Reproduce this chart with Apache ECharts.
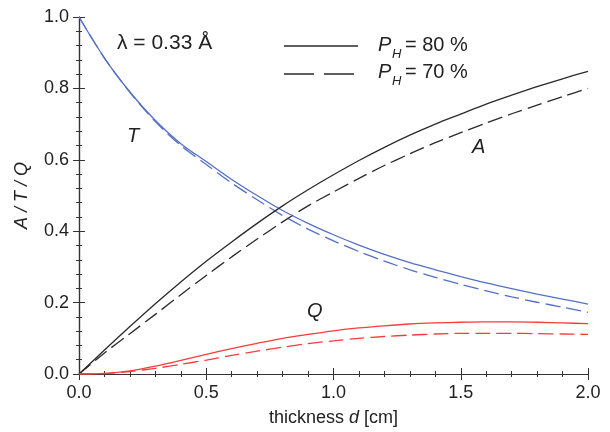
<!DOCTYPE html>
<html>
<head>
<meta charset="UTF-8">
<title>A / T / Q vs thickness</title>
<script src="https://cdn.jsdelivr.net/npm/echarts@6/dist/echarts.min.js"></script>
<style>
  html, body { margin: 0; padding: 0; background: #fff; }
  #chart { width: 610px; height: 432px; }
</style>
</head>
<body>
<div id="chart"></div>
<script>
// thickness d [cm]
const thickness = [0.0, 0.1, 0.2, 0.3, 0.4, 0.5, 0.6, 0.7, 0.8, 0.9, 1.0,
                   1.1, 1.2, 1.3, 1.4, 1.5, 1.6, 1.7, 1.8, 1.9, 2.0];

// P_H = 80 % (solid)
const T80 = [1.000, 0.885, 0.790, 0.710, 0.645, 0.595, 0.545, 0.500, 0.458, 0.422, 0.390,
             0.361, 0.335, 0.312, 0.292, 0.273, 0.255, 0.239, 0.224, 0.210, 0.196];
const A80 = [0.000, 0.067, 0.133, 0.197, 0.258, 0.316, 0.370, 0.422, 0.471, 0.516, 0.558,
             0.598, 0.635, 0.669, 0.700, 0.728, 0.756, 0.781, 0.805, 0.827, 0.848];
const Q80 = [0.000, 0.002, 0.009, 0.022, 0.038, 0.055, 0.071, 0.086, 0.100, 0.111, 0.121,
             0.129, 0.135, 0.140, 0.143, 0.145, 0.146, 0.146, 0.145, 0.143, 0.141];

// P_H = 70 % (dashed)
const T70 = [1.000, 0.885, 0.789, 0.707, 0.640, 0.587, 0.535, 0.488, 0.444, 0.406, 0.373,
             0.343, 0.316, 0.292, 0.271, 0.251, 0.233, 0.216, 0.201, 0.187, 0.173];
const A70 = [0.000, 0.059, 0.113, 0.167, 0.222, 0.276, 0.328, 0.378, 0.426, 0.471, 0.510,
             0.548, 0.584, 0.617, 0.648, 0.676, 0.703, 0.729, 0.753, 0.777, 0.800];
const Q70 = [0.000, 0.001, 0.007, 0.016, 0.027, 0.039, 0.052, 0.064, 0.075, 0.085, 0.093,
             0.100, 0.105, 0.109, 0.112, 0.114, 0.114, 0.114, 0.113, 0.112, 0.111];

const FONT = '"Liberation Sans", Arial, sans-serif';
const BLUE = '#5470c6';
const RED = '#ff3b3b';
const BLACK = '#2a2a2a';
const DASH = [15, 6];

function pairs(ys) {
    return thickness.map((d, i) => [d, ys[i]]);
}

function curve(name, ys, color, dashed) {
    return {
        name: name,
        type: 'line',
        data: pairs(ys),
        smooth: 0.3,
        showSymbol: false,
        silent: true,
        lineStyle: { color: color, width: 1.3, type: dashed ? DASH : 'solid' },
        z: dashed ? 2 : 3
    };
}

const axisLine = { show: true, lineStyle: { color: '#333', width: 1.2 } };
const tick = { show: true, inside: true, length: 6, lineStyle: { color: '#333', width: 1 } };
const minor = { show: true, splitNumber: 5, length: 3, lineStyle: { color: '#333', width: 1 } };
const label = { fontSize: 18, color: '#222', fontFamily: FONT, formatter: v => v.toFixed(1) };

const chart = echarts.init(document.getElementById('chart'));

chart.setOption({
    backgroundColor: '#fff',
    animation: false,
    grid: { left: 79, right: 22, top: 17, bottom: 57 },
    xAxis: [{
        type: 'value', min: 0, max: 2, interval: 0.5,
        axisLine: axisLine, axisTick: tick, minorTick: minor,
        splitLine: { show: false },
        axisLabel: Object.assign({ margin: 10 }, label),
        name: '{a|thickness }{i|d}{a| [cm]}',
        nameLocation: 'middle', nameGap: 35,
        nameTextStyle: {
            rich: {
                a: { fontSize: 18, color: '#222', fontFamily: FONT },
                i: { fontSize: 18, color: '#222', fontFamily: FONT, fontStyle: 'italic' }
            }
        }
    }, {
        type: 'value', min: 0, max: 2, interval: 0.5, position: 'top',
        axisLine: axisLine, axisTick: tick, minorTick: minor,
        splitLine: { show: false }, axisLabel: { show: false }
    }],
    yAxis: [{
        type: 'value', min: 0, max: 1, interval: 0.2,
        axisLine: axisLine, axisTick: tick, minorTick: minor,
        splitLine: { show: false },
        axisLabel: Object.assign({ margin: 10 }, label),
        name: 'A / T / Q',
        nameLocation: 'middle', nameGap: 48, nameRotate: 90,
        nameTextStyle: { fontSize: 18, color: '#222', fontFamily: FONT, fontStyle: 'italic' }
    }, {
        type: 'value', min: 0, max: 1, interval: 0.2, position: 'right',
        axisLine: axisLine, axisTick: tick, minorTick: minor,
        splitLine: { show: false }, axisLabel: { show: false }
    }],
    series: [
        curve('T 80', T80, BLUE, false),
        curve('T 70', T70, BLUE, true),
        curve('A 80', A80, BLACK, false),
        curve('A 70', A70, BLACK, true),
        curve('Q 80', Q80, RED, false),
        curve('Q 70', Q70, RED, true)
    ],
    graphic: [
        // wavelength note
        { type: 'text', left: 117, top: 33,
          style: { text: 'λ = 0.33 Å', fontSize: 21, fill: '#222', fontFamily: FONT } },
        // curve labels
        { type: 'text', left: 127, top: 126,
          style: { text: 'T', fontSize: 20, fill: '#222', fontFamily: FONT, fontStyle: 'italic' } },
        { type: 'text', left: 472, top: 137,
          style: { text: 'A', fontSize: 20, fill: '#222', fontFamily: FONT, fontStyle: 'italic' } },
        { type: 'text', left: 307, top: 301,
          style: { text: 'Q', fontSize: 20, fill: '#222', fontFamily: FONT, fontStyle: 'italic' } },
        // legend
        { type: 'line', shape: { x1: 284, y1: 46, x2: 358, y2: 46 },
          style: { stroke: BLACK, lineWidth: 1.3 } },
        { type: 'line', shape: { x1: 284, y1: 74, x2: 358, y2: 74 },
          style: { stroke: BLACK, lineWidth: 1.3, lineDash: [30, 10] } },
        { type: 'text', left: 378, top: 35,
          style: { text: 'P', fontSize: 20, fill: '#222', fontFamily: FONT, fontStyle: 'italic' } },
        { type: 'text', left: 392, top: 48,
          style: { text: 'H', fontSize: 13, fill: '#222', fontFamily: FONT, fontStyle: 'italic' } },
        { type: 'text', left: 405, top: 35,
          style: { text: '= 80 %', fontSize: 20, fill: '#222', fontFamily: FONT } },
        { type: 'text', left: 378, top: 62,
          style: { text: 'P', fontSize: 20, fill: '#222', fontFamily: FONT, fontStyle: 'italic' } },
        { type: 'text', left: 392, top: 75,
          style: { text: 'H', fontSize: 13, fill: '#222', fontFamily: FONT, fontStyle: 'italic' } },
        { type: 'text', left: 405, top: 62,
          style: { text: '= 70 %', fontSize: 20, fill: '#222', fontFamily: FONT } }
    ]
});
</script>
</body>
</html>
